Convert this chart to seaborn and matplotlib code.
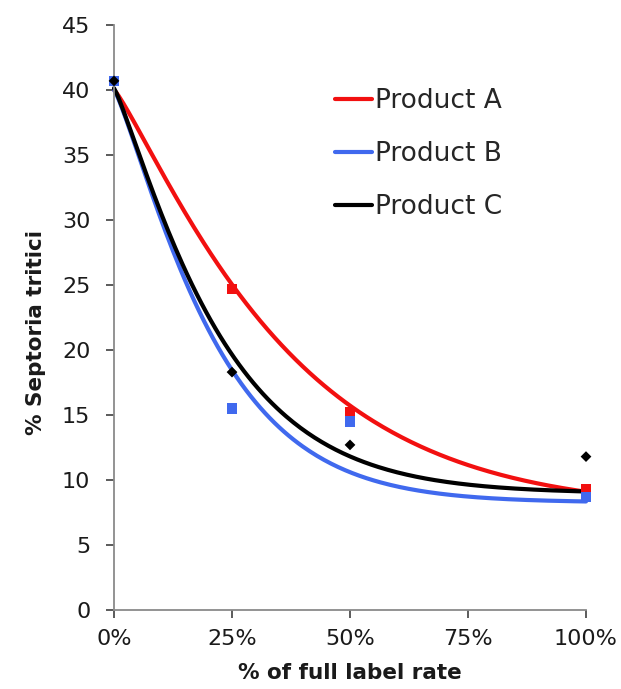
import numpy as np
import pandas as pd
import matplotlib
matplotlib.use("Agg")
import matplotlib.pyplot as plt
import seaborn as sns

# ---- data ----
products = ["Product A", "Product B", "Product C"]
rates = [0, 25, 50, 100]                      # % of full label rate
septoria_a = [40.7, 24.7, 15.2, 9.3]
septoria_b = [40.7, 15.5, 14.5, 8.7]
septoria_c = [40.7, 18.3, 12.7, 11.8]

# trend-line values
curve_a_x = [0, 7.1, 14.1, 21.2, 24.7, 31.8, 38.8, 45.9, 50.8, 59.8, 70.4, 81, 91.6, 100]
curve_a = [40.0, 35.6, 31.5, 27.2, 24.6, 21.8, 19.2, 16.9, 15.5, 13.8, 11.8, 10.4, 9.5, 9.1]
curve_b_x = [0, 7.1, 14.1, 24.7, 31.8, 38.8, 45.9, 50.8, 59.8, 70.4, 81, 91.6, 100]
curve_b = [40.0, 32.8, 26.8, 18.0, 14.9, 12.8, 11.5, 10.9, 10.0, 9.1, 8.5, 8.15, 7.95]
curve_c_x = [0, 7.1, 14.1, 24.7, 31.8, 38.8, 45.9, 50.8, 59.8, 70.4, 81, 91.6, 100]
curve_c = [40.0, 33.3, 27.7, 18.8, 16.2, 14.4, 12.8, 12.0, 10.9, 10.0, 9.4, 9.0, 8.85]

x_ticks = [0, 25, 50, 75, 100]
x_tick_labels = ["0%", "25%", "50%", "75%", "100%"]
y_ticks = [0, 5, 10, 15, 20, 25, 30, 35, 40, 45]

colors = {"Product A": "#F21010", "Product B": "#4069EE", "Product C": "#000000"}
markers = {"Product A": "s", "Product B": "s", "Product C": "D"}


def trend(xs, ys, grid):
    """Least-squares decay trend line (c + d*exp(-k*x**p)) through read curve values."""
    xs = np.asarray(xs, float) / 100.0
    ys = np.asarray(ys, float)
    best = None
    for p in np.linspace(0.6, 1.4, 41):
        for k in np.linspace(0.5, 8, 151):
            A = np.column_stack([np.ones_like(xs), np.exp(-k * xs ** p)])
            coef, *_ = np.linalg.lstsq(A, ys, rcond=None)
            err = np.sum((A @ coef - ys) ** 2)
            if best is None or err < best[0]:
                best = (err, k, p, coef)
    _, k, p, (c, d) = best
    return c + d * np.exp(-k * (grid / 100.0) ** p)


grid = np.linspace(0, 100, 201)
curves = []
for name, cx, cy in zip(products, [curve_a_x, curve_b_x, curve_c_x], [curve_a, curve_b, curve_c]):
    curves.append(pd.DataFrame({"rate": grid, "value": trend(cx, cy, grid), "product": name}))
curve_df = pd.concat(curves, ignore_index=True)

points_df = pd.concat(
    [pd.DataFrame({"rate": rates, "value": v, "product": n})
     for n, v in zip(products, [septoria_a, septoria_b, septoria_c])],
    ignore_index=True)

sns.set_theme(style="white")
plt.rcParams["font.family"] = ["DejaVu Sans"]

fig = plt.figure(figsize=(6.21, 6.89), dpi=100)
ax = fig.add_axes([114 / 621, 1 - 610 / 689, 472 / 621, 585 / 689])

sns.lineplot(data=curve_df, x="rate", y="value", hue="product", palette=colors,
             linewidth=3.0, ax=ax, legend=True, zorder=2)
for name in products:
    sub = points_df[points_df["product"] == name]
    sns.scatterplot(data=sub, x="rate", y="value", color=colors[name],
                    marker=markers[name], s=55 if markers[name] == "s" else 30,
                    edgecolor="none", linewidth=0, ax=ax, legend=False, zorder=3)

ax.set_xlim(0, 100)
ax.set_ylim(0, 45)
ax.set_xticks(x_ticks)
ax.set_xticklabels(x_tick_labels)
ax.set_yticks(y_ticks)
ax.tick_params(axis="both", labelsize=16, colors="#404040", labelcolor="#1a1a1a",
               direction="out", length=6, width=1.2)
ax.tick_params(axis="x", pad=8)
ax.tick_params(axis="y", pad=11)
ax.tick_params(axis="both", bottom=True, left=True)
for s in ["top", "right"]:
    ax.spines[s].set_visible(False)
for s in ["left", "bottom"]:
    ax.spines[s].set_color("#8a8a8a")
    ax.spines[s].set_linewidth(1.3)
ax.grid(False)
for coll in ax.collections:
    coll.set_clip_on(False)
for ln in ax.lines:
    ln.set_clip_on(False)

ax.set_xlabel("% of full label rate", fontsize=15.5, fontweight="bold", labelpad=10, color="#1a1a1a")
ax.set_ylabel("% Septoria tritici", fontsize=15.5, fontweight="bold", color="#1a1a1a")
ax.yaxis.set_label_coords(-0.145, (610 - 333) / 585)

leg = ax.legend(loc="upper left", bbox_to_anchor=(335 / 621, 1 - 88 / 689),
                bbox_transform=fig.transFigure, frameon=False, fontsize=19,
                handlelength=1.4, handletextpad=0.1, labelspacing=1.02,
                borderpad=0, borderaxespad=0)
for h in leg.get_lines():
    h.set_linewidth(3.0)

fig.savefig("out.png", dpi=100)
